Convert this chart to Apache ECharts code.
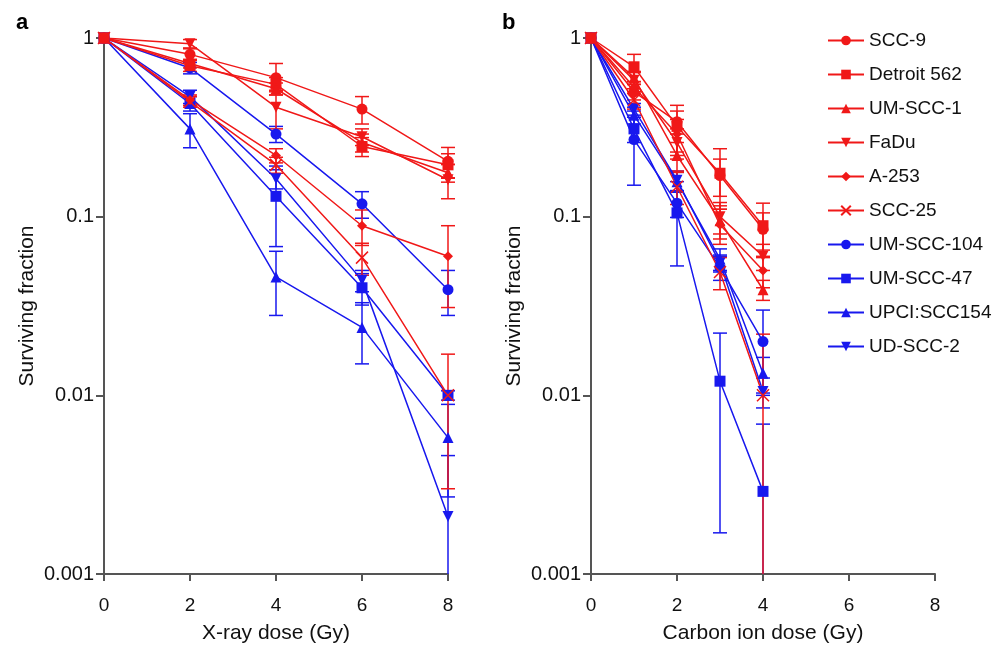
<!DOCTYPE html>
<html>
<head>
<meta charset="utf-8">
<script src="https://cdn.jsdelivr.net/npm/echarts@6/dist/echarts.min.js"></script>
<style>
html,body{margin:0;padding:0;background:#fff;}
#chart{width:1008px;height:649px;}
</style>
</head>
<body>
<div id="chart"></div>
<script>
// ---------- DATA ----------
const cellLines = ['SCC-9','Detroit 562','UM-SCC-1','FaDu','A-253','SCC-25','UM-SCC-104','UM-SCC-47','UPCI:SCC154','UD-SCC-2'];
const xrayDoses = [0, 2, 4, 6, 8];
const carbonDoses = [0, 1, 2, 3, 4];
const xTicks = [0, 2, 4, 6, 8];
const yTickLabels = ['0.001', '0.01', '0.1', '1'];

// X-ray surviving fractions (mean) and error (SD, linear)
const xr_SCC9      = [1, 0.81, 0.60, 0.40, 0.204];
const xr_SCC9_e    = [0, 0.06, 0.12, 0.07, 0.04];
const xr_D562      = [1, 0.70, 0.55, 0.247, 0.195];
const xr_D562_e    = [0, 0.05, 0.05, 0.03, 0.03];
const xr_UMSCC1    = [1, 0.72, 0.52, 0.26, 0.176];
const xr_UMSCC1_e  = [0, 0.04, 0.04, 0.03, 0.02];
const xr_FaDu      = [1, 0.93, 0.41, 0.28, 0.161];
const xr_FaDu_e    = [0, 0.05, 0.10, 0.03, 0.035];
const xr_A253      = [1, 0.45, 0.22, 0.089, 0.060];
const xr_A253_e    = [0, 0.03, 0.02, 0.02, 0.029];
const xr_SCC25     = [1, 0.44, 0.195, 0.059, 0.010];
const xr_SCC25_e   = [0, 0.03, 0.02, 0.012, 0.007];
const xr_UMSCC104  = [1, 0.68, 0.29, 0.118, 0.039];
const xr_UMSCC104_e= [0, 0.05, 0.03, 0.02, 0.011];
const xr_UMSCC47   = [1, 0.43, 0.13, 0.040, 0.010];
const xr_UMSCC47_e = [0, 0.04, 0.062, 0.008, 0.0006];
const xr_UPCI      = [1, 0.31, 0.046, 0.024, 0.0058];
const xr_UPCI_e    = [0, 0.067, 0.018, 0.009, 0.0031];
const xr_UDSCC2    = [1, 0.47, 0.163, 0.044, 0.0021];
const xr_UDSCC2_e  = [0, 0.04, 0.02, 0.006, 0.0025];

// Carbon ion surviving fractions (mean) and error (SD, linear)
const c_SCC9       = [1, 0.50, 0.34, 0.17, 0.085];
const c_SCC9_e     = [0, 0.05, 0.05, 0.04, 0.02];
const c_D562       = [1, 0.69, 0.32, 0.175, 0.089];
const c_D562_e     = [0, 0.12, 0.10, 0.065, 0.03];
const c_UMSCC1     = [1, 0.60, 0.22, 0.095, 0.039];
const c_UMSCC1_e   = [0, 0.05, 0.04, 0.02, 0.005];
const c_FaDu       = [1, 0.58, 0.26, 0.10, 0.060];
const c_FaDu_e     = [0, 0.06, 0.05, 0.02, 0.01];
const c_A253       = [1, 0.53, 0.29, 0.09, 0.050];
const c_A253_e     = [0, 0.04, 0.06, 0.02, 0.01];
const c_SCC25      = [1, 0.45, 0.147, 0.049, 0.010];
const c_SCC25_e    = [0, 0.05, 0.03, 0.01, 0.012];
const c_UMSCC104   = [1, 0.27, 0.119, 0.052, 0.020];
const c_UMSCC104_e = [0, 0.12, 0.02, 0.008, 0.01];
const c_UMSCC47    = [1, 0.31, 0.105, 0.012, 0.0029];
const c_UMSCC47_e  = [0, 0.05, 0.052, 0.0103, 0.004];
const c_UPCI       = [1, 0.37, 0.157, 0.058, 0.0133];
const c_UPCI_e     = [0, 0.04, 0.02, 0.008, 0.003];
const c_UDSCC2     = [1, 0.40, 0.16, 0.055, 0.0105];
const c_UDSCC2_e   = [0, 0.03, 0.02, 0.006, 0.002];

const xraySF  = [xr_SCC9, xr_D562, xr_UMSCC1, xr_FaDu, xr_A253, xr_SCC25, xr_UMSCC104, xr_UMSCC47, xr_UPCI, xr_UDSCC2];
const xrayErr = [xr_SCC9_e, xr_D562_e, xr_UMSCC1_e, xr_FaDu_e, xr_A253_e, xr_SCC25_e, xr_UMSCC104_e, xr_UMSCC47_e, xr_UPCI_e, xr_UDSCC2_e];
const carbSF  = [c_SCC9, c_D562, c_UMSCC1, c_FaDu, c_A253, c_SCC25, c_UMSCC104, c_UMSCC47, c_UPCI, c_UDSCC2];
const carbErr = [c_SCC9_e, c_D562_e, c_UMSCC1_e, c_FaDu_e, c_A253_e, c_SCC25_e, c_UMSCC104_e, c_UMSCC47_e, c_UPCI_e, c_UDSCC2_e];

// ---------- STYLE ----------
const RED = '#f01818';
const BLUE = '#1818ee';
const DOWN_TRI = 'path://M0,0L10,0L5,9Z';
const CROSS = 'path://M0,0L10,10M10,0L0,10';
const seriesColor = [RED, RED, RED, RED, RED, RED, BLUE, BLUE, BLUE, BLUE];
const seriesSymbol = ['circle', 'rect', 'triangle', DOWN_TRI, 'diamond', CROSS, 'circle', 'rect', 'triangle', DOWN_TRI];
const seriesSymbolSize = [11, 11, 11, 11, 10, 12, 11, 11, 11, 11];
const FONT = '"Liberation Sans", Arial, sans-serif';
const AXIS_COLOR = '#555';

function errRender(color) {
  return function (params, api) {
    const x = api.value(0), y = api.value(1), e = api.value(2);
    if (!e) return null;
    const hi = y + e, lo = y - e;
    const loC = lo > 0.001 ? lo : 0.001;
    const pHi = api.coord([x, hi]);
    const pLo = api.coord([x, loC]);
    const w = 7;
    const st = { stroke: color, lineWidth: 1.5 };
    const ch = [
      { type: 'line', shape: { x1: pHi[0], y1: pHi[1], x2: pLo[0], y2: pLo[1] }, style: st },
      { type: 'line', shape: { x1: pHi[0] - w, y1: pHi[1], x2: pHi[0] + w, y2: pHi[1] }, style: st }
    ];
    if (lo > 0.001) ch.push({ type: 'line', shape: { x1: pLo[0] - w, y1: pLo[1], x2: pLo[0] + w, y2: pLo[1] }, style: st });
    return { type: 'group', children: ch };
  };
}

const series = [];
// draw blue first, red on top
const order = [6, 7, 8, 9, 0, 1, 2, 3, 4, 5];
[[xrayDoses, xraySF, xrayErr, 0], [carbonDoses, carbSF, carbErr, 1]].forEach(([doses, sf, er, gi]) => {
  order.forEach(i => {
    const col = seriesColor[i];
    series.push({
      type: 'custom',
      name: cellLines[i] + ' error',
      xAxisIndex: gi, yAxisIndex: gi,
      renderItem: errRender(col),
      data: doses.map((d, k) => [d, sf[i][k], er[i][k]]),
      encode: { x: 0, y: 1 },
      z: 1,
      silent: true
    });
  });
  order.forEach(i => {
    const col = seriesColor[i];
    const isCross = seriesSymbol[i] === CROSS;
    series.push({
      type: 'line',
      name: cellLines[i],
      xAxisIndex: gi, yAxisIndex: gi,
      data: doses.map((d, k) => [d, sf[i][k]]),
      symbol: seriesSymbol[i],
      symbolSize: seriesSymbolSize[i],
      showAllSymbol: true,
      lineStyle: { color: col, width: 1.5 },
      itemStyle: isCross ? { color: col, borderColor: col, borderWidth: 1.5 } : { color: col, borderWidth: 0 },
      emphasis: { disabled: true },
      z: 2
    });
  });
});

function yAxis(gi) {
  return {
    type: 'log', logBase: 10, min: 0.001, max: 1, gridIndex: gi,
    name: 'Surviving fraction', nameLocation: 'middle', nameGap: 66,
    nameTextStyle: { fontSize: 21, color: '#111', fontFamily: FONT },
    axisLine: { show: true, lineStyle: { color: AXIS_COLOR, width: 2 } },
    axisTick: { show: true, length: 8, inside: false, lineStyle: { color: AXIS_COLOR, width: 2 } },
    minorTick: { show: false },
    splitLine: { show: false },
    axisLabel: {
      fontSize: 20, color: '#111', fontFamily: FONT, margin: 10,
      formatter: v => yTickLabels[Math.round(Math.log10(v)) + 3]
    }
  };
}
function xAxis(gi, name) {
  return {
    type: 'value', min: 0, max: 8, interval: 2, gridIndex: gi,
    name: name, nameLocation: 'middle', nameGap: 49,
    nameTextStyle: { fontSize: 21, color: '#111', fontFamily: FONT },
    axisLine: { show: true, onZero: false, lineStyle: { color: AXIS_COLOR, width: 2 } },
    axisTick: { show: true, length: 7, inside: false, lineStyle: { color: AXIS_COLOR, width: 2 } },
    splitLine: { show: false },
    axisLabel: { fontSize: 19, color: '#111', fontFamily: FONT, margin: 22,
      formatter: v => xTicks.includes(v) ? String(v) : '' }
  };
}

const option = {
  backgroundColor: '#fff',
  animation: false,
  textStyle: { fontFamily: FONT },
  title: [
    { text: 'a', left: 11, top: 7, textStyle: { fontSize: 22, fontWeight: 'bold', color: '#000', fontFamily: FONT } },
    { text: 'b', left: 497, top: 7, textStyle: { fontSize: 22, fontWeight: 'bold', color: '#000', fontFamily: FONT } }
  ],
  grid: [
    { left: 104, top: 38, width: 344, height: 537 },
    { left: 591, top: 38, width: 344, height: 537 }
  ],
  xAxis: [xAxis(0, 'X-ray dose (Gy)'), xAxis(1, 'Carbon ion dose (Gy)')],
  yAxis: [yAxis(0), yAxis(1)],
  legend: {
    data: cellLines,
    orient: 'vertical',
    left: 822, top: 26,
    itemWidth: 36, itemHeight: 12, itemGap: 15,
    textStyle: { fontSize: 19, color: '#111', fontFamily: FONT },
    selectedMode: false
  },
  series: series
};

const chart = echarts.init(document.getElementById('chart'), null, { renderer: 'canvas' });
chart.setOption(option);
</script>
</body>
</html>
